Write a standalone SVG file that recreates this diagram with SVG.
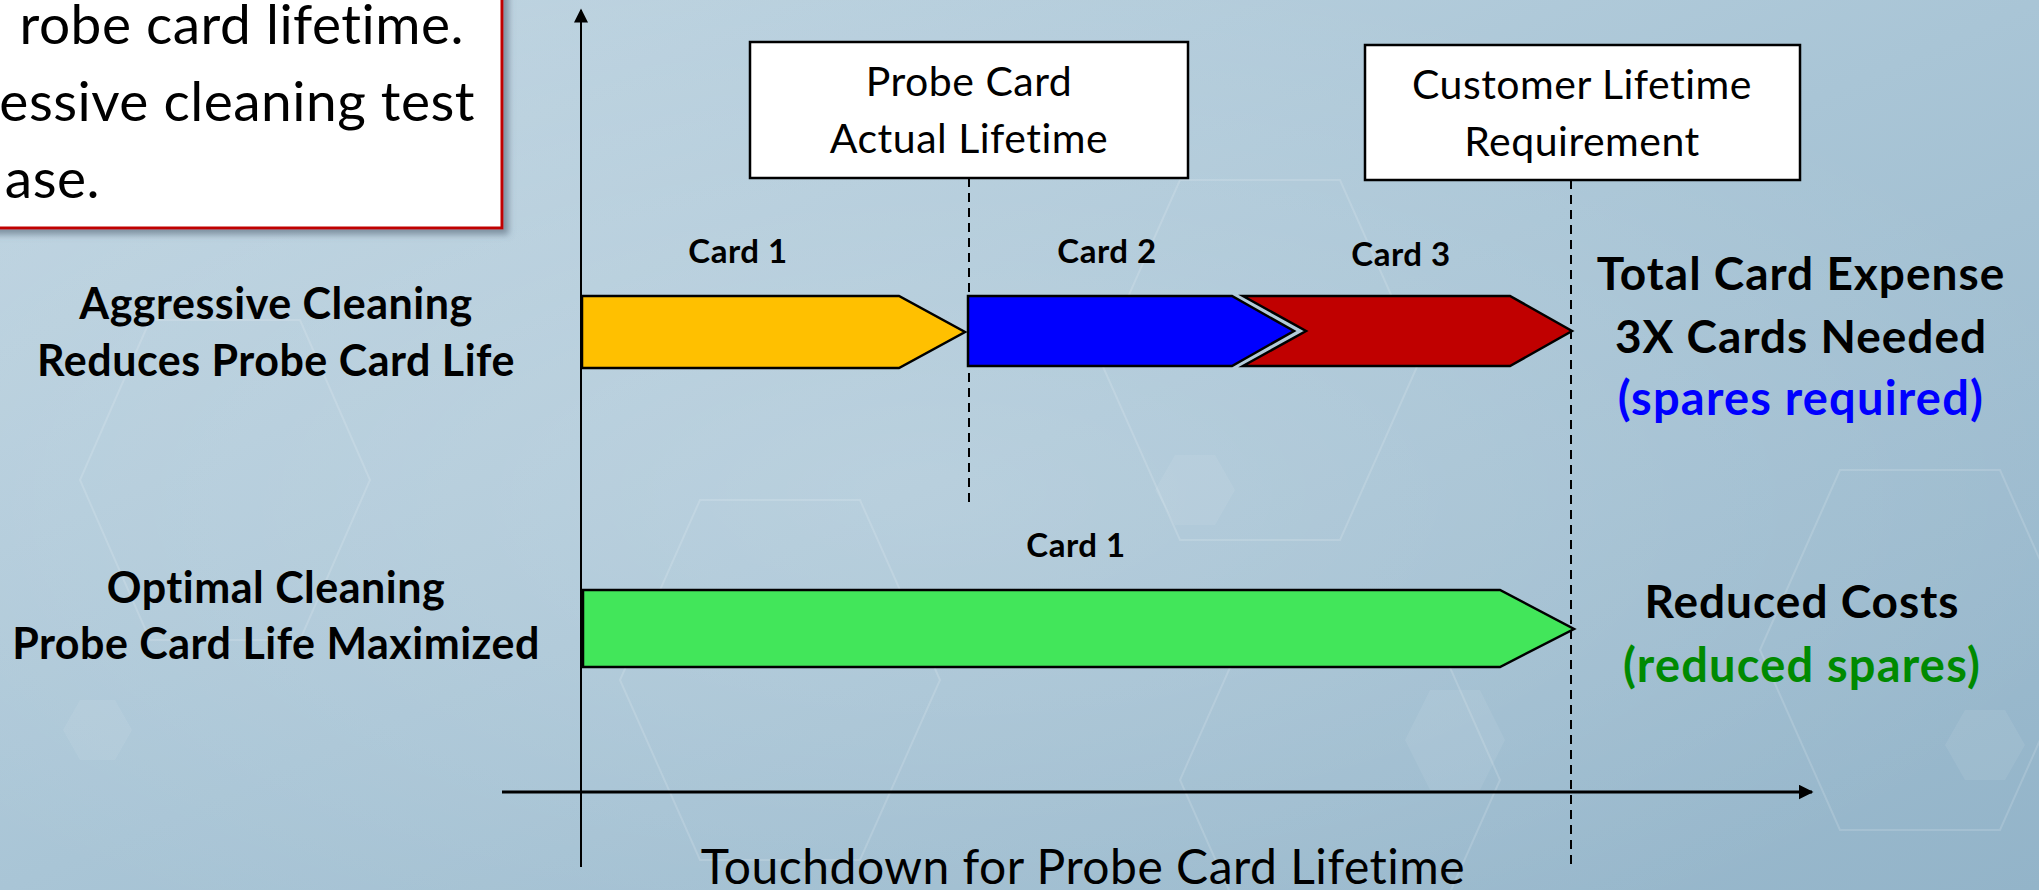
<svg xmlns="http://www.w3.org/2000/svg" width="2039" height="890" viewBox="0 0 2039 890">
  <defs>
    <linearGradient id="bg" x1="0" y1="0" x2="1" y2="1">
      <stop offset="0" stop-color="#c3d7e3"/>
      <stop offset="0.5" stop-color="#a9c5d6"/>
      <stop offset="1" stop-color="#93b4c9"/>
    </linearGradient>
    <radialGradient id="glow" cx="0.45" cy="0.55" r="0.6">
      <stop offset="0" stop-color="#ffffff" stop-opacity="0.18"/>
      <stop offset="1" stop-color="#ffffff" stop-opacity="0"/>
    </radialGradient>
    <filter id="shadow" x="-10%" y="-10%" width="130%" height="130%">
      <feDropShadow dx="5" dy="5" stdDeviation="3" flood-color="#556677" flood-opacity="0.6"/>
    </filter>
    <marker id="arrow" viewBox="0 0 10 10" refX="9" refY="5" markerWidth="5" markerHeight="5" orient="auto" markerUnits="strokeWidth">
      <path d="M0,0 L10,5 L0,10 z" fill="#000"/>
    </marker>
    <marker id="arrowV" viewBox="0 0 10 10" refX="9" refY="5" markerWidth="8" markerHeight="7" orient="auto" markerUnits="strokeWidth">
      <path d="M0,0 L10,5 L0,10 z" fill="#000"/>
    </marker>
  </defs>
  <style>
    .t { font-family: Lato, "Open Sans", "Liberation Sans", sans-serif; fill: #000; letter-spacing: 0.5px; }
    .b { font-weight: bold; }
    .box { fill: #fff; stroke: #000; stroke-width: 2.5; }
    .dash { stroke: #000; stroke-width: 2; stroke-dasharray: 9 6; fill: none; }
    .axis { stroke: #000; fill: none; }
    .bar { stroke: #000; stroke-width: 2.5; stroke-linejoin: miter; }
    .hex { fill: none; stroke: #ffffff; stroke-opacity: 0.15; stroke-width: 2; }
    .hexf { fill: #ffffff; fill-opacity: 0.07; }
    .note { font-size: 55px; }
    .bx { font-size: 41px; }
    .side { font-size: 43px; }
    .card { font-size: 33px; }
    .res { font-size: 46px; letter-spacing: 1px; }
    .resp { font-size: 47px; letter-spacing: 1.2px; }
  </style>

  <!-- background -->
  <rect x="0" y="0" width="2039" height="890" fill="url(#bg)"/>
  <rect x="0" y="0" width="2039" height="890" fill="url(#glow)"/>
  <g id="decor">
    <polygon class="hex" points="1180,180 1340,180 1420,360 1340,540 1180,540 1100,360"/>
    <polygon class="hex" points="700,500 860,500 940,680 860,860 700,860 620,680"/>
    <polygon class="hex" points="1260,600 1420,600 1500,780 1420,960 1260,960 1180,780"/>
    <polygon class="hex" points="1840,470 2000,470 2080,650 2000,830 1840,830 1760,650"/>
    <polygon class="hex" points="150,320 300,320 370,480 300,640 150,640 80,480"/>
    <polygon class="hexf" points="1430,690 1480,690 1505,740 1480,790 1430,790 1405,740"/>
    <polygon class="hexf" points="1965,710 2005,710 2025,745 2005,780 1965,780 1945,745"/>
    <polygon class="hexf" points="80,700 115,700 132,730 115,760 80,760 63,730"/>
    <polygon class="hexf" points="1175,455 1215,455 1235,490 1215,525 1175,525 1155,490"/>
  </g>

  <!-- top-left text box (cropped) -->
  <g id="note">
    <rect x="-20" y="-20" width="522" height="248" fill="#fff" stroke="#c00000" stroke-width="3" filter="url(#shadow)"/>
    <text class="t note" x="464" y="44" text-anchor="end">robe card lifetime.</text>
    <text class="t note" x="475" y="121" text-anchor="end">essive cleaning test</text>
    <text class="t note" x="100" y="198" text-anchor="end">ase.</text>
  </g>

  <!-- axes and connectors -->
  <g id="connectors">
    <line class="axis" x1="581" y1="867" x2="581" y2="10" stroke-width="2" marker-end="url(#arrowV)"/>
    <line class="axis" x1="502" y1="792" x2="1812" y2="792" stroke-width="3" marker-end="url(#arrow)"/>
    <line class="dash" x1="969" y1="178" x2="969" y2="506"/>
    <line class="dash" x1="1571" y1="180" x2="1571" y2="867"/>
  </g>

  <g id="box-actual">
    <rect class="box" x="750" y="42" width="438" height="136"/>
    <text class="t bx" x="969" y="96" text-anchor="middle">Probe Card</text>
    <text class="t bx" x="969" y="153" text-anchor="middle">Actual Lifetime</text>
  </g>

  <g id="box-customer">
    <rect class="box" x="1365" y="45" width="435" height="135"/>
    <text class="t bx" x="1582" y="99" text-anchor="middle">Customer Lifetime</text>
    <text class="t bx" x="1582" y="156" text-anchor="middle">Requirement</text>
  </g>

  <g id="label-aggressive">
    <text class="t b side" x="276" y="319" text-anchor="middle">Aggressive Cleaning</text>
    <text class="t b side" x="276" y="376" text-anchor="middle">Reduces Probe Card Life</text>
  </g>

  <g id="label-optimal">
    <text class="t b side" x="276" y="603" text-anchor="middle">Optimal Cleaning</text>
    <text class="t b side" x="276" y="659" text-anchor="middle">Probe Card Life Maximized</text>
  </g>

  <g id="card1-row1">
    <polygon class="bar" fill="#ffc000" points="582,296 899,296 965,332 899,368 582,368"/>
    <text class="t b card" x="738" y="263" text-anchor="middle">Card 1</text>
  </g>

  <g id="card2-row1">
    <polygon class="bar" fill="#0000ff" points="968,296 1232,296 1294,331 1232,366 968,366"/>
    <text class="t b card" x="1107" y="263" text-anchor="middle">Card 2</text>
  </g>

  <g id="card3-row1">
    <polygon class="bar" fill="#c00000" points="1243,296 1510,296 1572,331 1510,366 1243,366 1306,331"/>
    <text class="t b card" x="1401" y="266" text-anchor="middle">Card 3</text>
  </g>

  <g id="card1-row2">
    <polygon class="bar" fill="#42e65a" points="583,590 1500,590 1574,629 1500,667 583,667"/>
    <text class="t b card" x="1076" y="557" text-anchor="middle">Card 1</text>
  </g>

  <g id="result-expense">
    <text class="t b res" x="1801" y="290" text-anchor="middle">Total Card Expense</text>
    <text class="t b res" x="1801" y="353" text-anchor="middle">3X Cards Needed</text>
    <text class="t b resp" x="1801" y="415" text-anchor="middle" style="fill:#0000ff">(spares required)</text>
  </g>

  <g id="result-reduced">
    <text class="t b res" x="1802" y="618" text-anchor="middle">Reduced Costs</text>
    <text class="t b resp" x="1802" y="682" text-anchor="middle" style="fill:#008a00">(reduced spares)</text>
  </g>

  <g id="axis-label">
    <text class="t" x="1083" y="884" font-size="48" text-anchor="middle">Touchdown for Probe Card Lifetime</text>
  </g>
</svg>
